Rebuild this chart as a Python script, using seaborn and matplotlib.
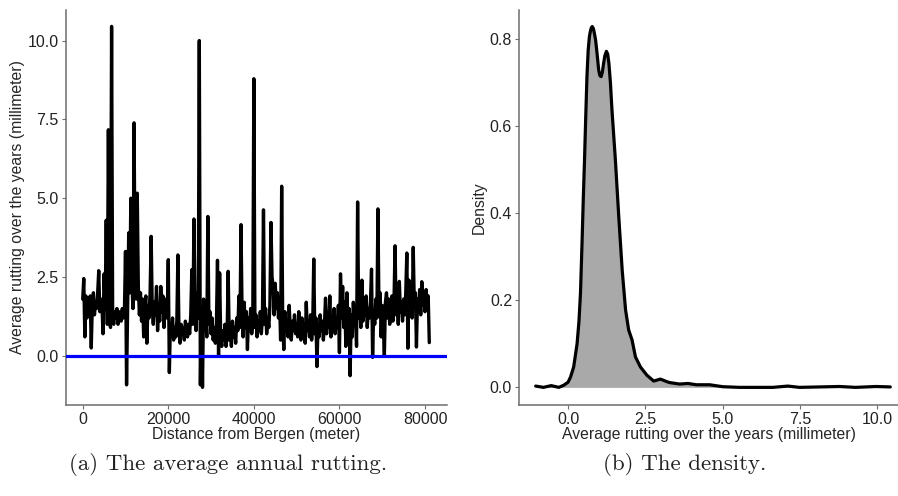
import numpy as np
import pandas as pd
import matplotlib
matplotlib.use("Agg")
import matplotlib.pyplot as plt
import seaborn as sns

# ---------------- data ----------------
step_m = 250  # sampling interval along the road (meter)

rut_00_10km = [1.8, 2.45, 0.6, 1.9, 1.2, 1.7, 1.4, 1.9, 0.25, 1.6,
               2.0, 1.3, 1.7, 1.5, 2.0, 2.7, 1.4, 1.8, 1.6, 0.7,
               2.6, 1.5, 4.3, 1.0, 7.17, 1.2, 0.9, 10.45, 1.3, 1.0,
               1.4, 1.2, 1.5, 1.0, 1.4, 1.3, 1.1, 1.5, 1.2, 1.4]
rut_10_20km = [3.31, -0.92, 1.6, 3.9, 2.0, 5.0, 2.3, 1.5, 7.39, 2.5,
               1.8, 5.16, 2.2, 1.3, 2.0, 1.1, 1.8, 0.6, 1.5, 1.9,
               0.4, 1.6, 1.2, 2.0, 3.79, 1.5, 1.0, 1.7, 1.3, 2.2,
               0.8, 1.6, 1.1, 2.2, 1.4, 1.9, 0.9, 1.5, 1.8, 1.2]
rut_20_30km = [3.05, -0.53, 1.0, 0.7, 1.2, 0.5, 0.9, 0.6, 1.1, 3.2,
               0.8, 0.4, 1.0, 0.7, 0.9, 0.5, 1.1, 0.8, 0.6, 1.0,
               0.7, 1.3, 2.73, 1.0, 4.34, 1.6, 0.8, 2.0, 1.2, 10.0,
               -0.92, 1.5, -1.0, 1.8, 0.9, 1.4, 0.6, 4.42, 1.0, 1.4]
rut_30_40km = [0.7, 1.2, 0.5, 0.9, 0.4, 1.0, 3.03, 0.0, 2.63, 0.6,
               0.3, 0.8, 0.5, 1.0, 0.3, 0.7, 2.68, 0.5, 0.9, 0.3,
               1.1, 0.6, 0.9, 0.4, 1.2, 0.8, 1.9, 0.9, 4.16, 1.3,
               0.6, 1.7, 0.9, 1.4, 0.2, 1.2, 0.8, 1.5, 0.7, 1.1]
rut_40_50km = [8.79, 0.9, 1.3, 0.6, 1.1, 0.8, 1.4, 0.7, 1.2, 4.63,
               1.0, 1.5, 0.7, 1.2, 0.9, 1.6, 4.23, 2.5, 2.2, 1.3,
               2.3, 1.5, 2.0, 1.2, 1.8, 0.5, 5.38, 1.0, 0.2, 1.4,
               0.8, 1.1, 0.6, 1.6, 0.9, 0.5, 1.1, 0.8, 1.3, 0.7]
rut_50_60km = [1.0, 0.6, 1.4, 0.8, 0.5, 1.2, 0.7, 1.0, 0.4, 1.7,
               0.8, 1.1, 0.6, 1.3, 0.5, 0.9, 3.07, 0.7, 1.2, -0.34,
               1.0, 0.6, 1.3, 0.8, 1.1, 0.5, 1.0, 1.83, 0.7, 1.2,
               0.9, 1.9, 0.6, 1.1, 0.8, 1.5, 0.7, 1.2, 0.9, 1.6]
rut_60_70km = [0.1, 2.6, 1.2, 2.2, 0.9, 1.7, 0.3, 2.0, 1.0, 1.5,
               -0.63, 1.3, 0.6, 1.7, 1.0, 1.4, 0.3, 4.88, 1.2, 1.6,
               0.9, 2.4, 1.1, 1.6, 1.3, 1.9, 0.9, 1.5, 1.2, 1.7,
               2.75, -0.05, 1.4, 1.0, 1.8, 1.2, 4.66, 1.3, 2.0, 0.6]
rut_70_80km = [1.6, 1.0, 0.0, 1.7, 2.0, 1.2, 1.8, 1.0, 1.5, 1.9,
               1.1, 1.7, 3.49, 1.3, 1.9, 1.0, 2.36, 1.4, 1.7, 1.1,
               1.8, 1.3, 2.0, 3.26, 0.24, 2.4, 1.5, 1.9, 1.2, 3.44,
               1.6, 2.0, 0.28, 1.8, 1.4, 2.1, 1.3, 2.35, 1.6, 1.9]
rut_80_81km = [1.4, 2.1, 1.7, 1.9, 0.42]

# density of the average rutting
dens_x = [-1.05, -0.8, -0.55, -0.3, -0.14, 0.0, 0.08, 0.18, 0.29, 0.35,
          0.40, 0.45, 0.49, 0.53, 0.57, 0.61, 0.65, 0.69, 0.72, 0.75,
          0.78, 0.82, 0.86, 0.89, 0.94, 0.99, 1.03, 1.07, 1.11, 1.15,
          1.19, 1.24, 1.28, 1.32, 1.37, 1.42, 1.53, 1.64, 1.75, 1.86,
          1.96, 2.07, 2.18, 2.34, 2.55, 2.77, 2.99, 3.2, 3.29, 3.61,
          3.88, 4.15, 4.58, 5.01, 5.55, 6.63, 7.11, 7.49, 8.78, 9.3,
          9.97, 10.43]
dens_y = [0.003, 0.0, 0.004, 0.0, 0.005, 0.012, 0.024, 0.047, 0.10, 0.15,
          0.216, 0.33, 0.43, 0.52, 0.62, 0.714, 0.775, 0.806, 0.818, 0.826,
          0.829, 0.824, 0.81, 0.798, 0.765, 0.729, 0.716, 0.714, 0.725, 0.745,
          0.762, 0.772, 0.766, 0.745, 0.70, 0.637, 0.523, 0.392, 0.27, 0.178,
          0.132, 0.109, 0.070, 0.047, 0.028, 0.0145, 0.019, 0.013, 0.011, 0.0076,
          0.009, 0.006, 0.006, 0.0015, 0.0, 0.0, 0.003, 0.0, 0.002, 0.0,
          0.002, 0.001]

left_yticks = [0.0, 2.5, 5.0, 7.5, 10.0]
left_xticks = [0, 20000, 40000, 60000, 80000]
right_yticks = [0.0, 0.2, 0.4, 0.6, 0.8]
right_xticks = [0.0, 2.5, 5.0, 7.5, 10.0]

# ---------------- build frames ----------------
rutting = np.array(rut_00_10km + rut_10_20km + rut_20_30km + rut_30_40km +
                   rut_40_50km + rut_50_60km + rut_60_70km + rut_70_80km +
                   rut_80_81km)
distance = np.arange(len(rutting)) * step_m
df = pd.DataFrame({"distance": distance, "rutting": rutting})
dens = pd.DataFrame({"x": dens_x, "y": dens_y})

# ---------------- style ----------------
sns.set_style("white")
plt.rcParams["font.family"] = ["Liberation Sans", "DejaVu Sans"]

fig = plt.figure(figsize=(8.98, 4.96), dpi=100)
W, H = 898, 496
axL = fig.add_axes([65.7 / W, (H - 405) / H, (447 - 65.7) / W, (405 - 10) / H])
axR = fig.add_axes([519 / W, (H - 405) / H, (898 - 519) / W, (405 - 10) / H])

tick_fs = 11.5
label_fs = 11.3
spine_col = "#6e6e6e"

# left panel
sns.lineplot(data=df, x="distance", y="rutting", ax=axL, color="black",
             linewidth=2.4, estimator=None, sort=False)
axL.axhline(0, color="#0000ff", linewidth=2.3, zorder=5)
axL.set_xlim(-3973, 85140)
axL.set_ylim(-1.56, 10.97)
axL.set_xticks(left_xticks)
axL.set_xticklabels([str(v) for v in left_xticks])
axL.set_yticks(left_yticks)
axL.set_yticklabels([f"{v:.1f}" for v in left_yticks])
axL.set_xlabel("Distance from Bergen (meter)", fontsize=label_fs, labelpad=0)
axL.set_ylabel("Average rutting over the years (millimeter)", fontsize=label_fs, labelpad=2)

# right panel
axR.fill_between(dens["x"], dens["y"], 0, color="#a9a9a9", linewidth=0)
sns.lineplot(data=dens, x="x", y="y", ax=axR, color="black", linewidth=2.3,
             estimator=None, sort=False)
axR.set_xlim(-1.59, 10.68)
axR.set_ylim(-0.0405, 0.867)
axR.set_xticks(right_xticks)
axR.set_xticklabels([f"{v:.1f}" for v in right_xticks])
axR.set_yticks(right_yticks)
axR.set_yticklabels([f"{v:.1f}" for v in right_yticks])
axR.set_xlabel("Average rutting over the years (millimeter)", fontsize=label_fs, labelpad=0)
axR.set_ylabel("Density", fontsize=label_fs, labelpad=2)

for ax in (axL, axR):
    for side in ("top", "right"):
        ax.spines[side].set_visible(False)
    for side in ("left", "bottom"):
        ax.spines[side].set_color(spine_col)
        ax.spines[side].set_linewidth(1.1)
    ax.tick_params(axis="both", which="major", direction="out", length=3,
                   width=0.8, color=spine_col, labelsize=tick_fs,
                   labelcolor="#222222", pad=2, bottom=True, left=True)
    ax.grid(False)

# captions
fig.text(228 / W, 1 - 465 / H, "(a) The average annual rutting.",
         ha="center", va="center", fontsize=16.5, family="cmr10", color="#222222")
fig.text(685 / W, 1 - 465 / H, "(b) The density.",
         ha="center", va="center", fontsize=16.5, family="cmr10", color="#222222")

fig.savefig("out.png", dpi=100)
